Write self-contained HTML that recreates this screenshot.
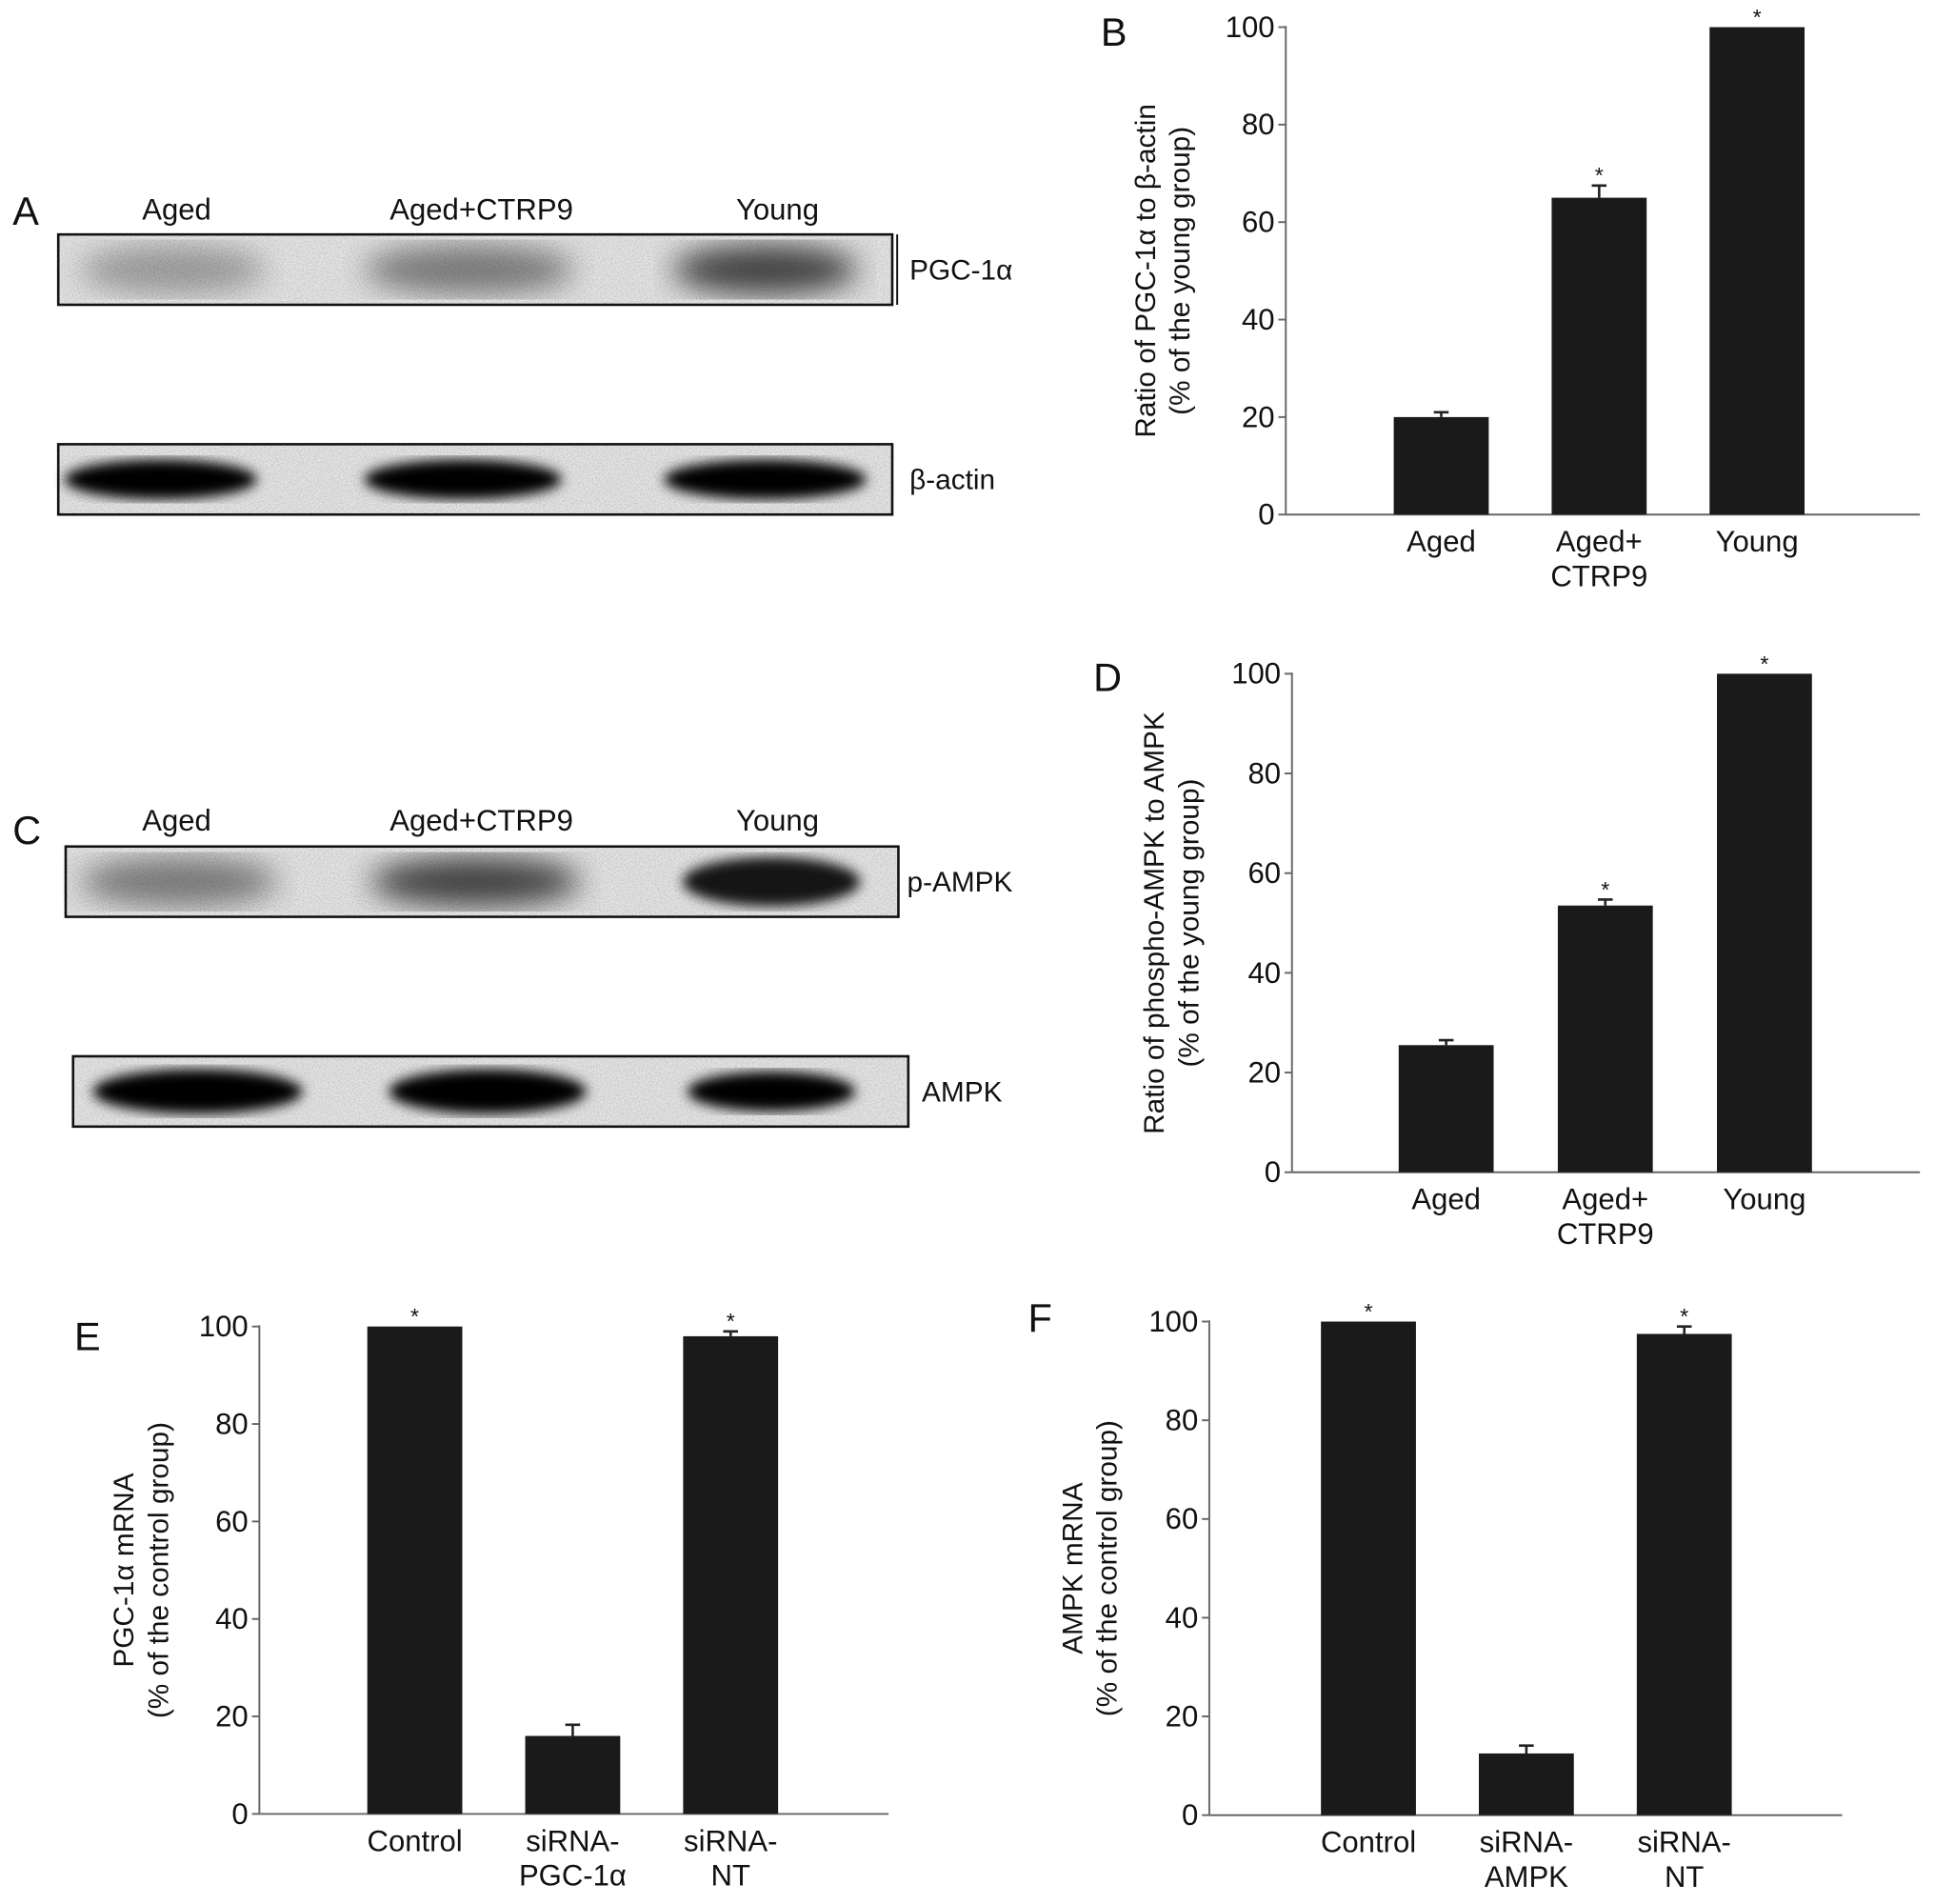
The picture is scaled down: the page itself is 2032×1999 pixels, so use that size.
<!DOCTYPE html>
<html><head><meta charset="utf-8">
<style>
html,body{margin:0;padding:0;background:#fff;}
svg{display:block;}
.t{font-family:"Liberation Sans Narrow","Liberation Sans",sans-serif;fill:#111;}
.ti{font-family:"Liberation Sans",sans-serif;fill:#111;}
</style></head>
<body>
<svg id="fig" width="2032" height="1999" viewBox="0 0 1568 1543" xmlns="http://www.w3.org/2000/svg">
<defs>
<filter id="noise" x="0" y="0" width="100%" height="100%">
<feTurbulence type="fractalNoise" baseFrequency="0.9" numOctaves="2" seed="3" result="n"/>
<feColorMatrix in="n" type="matrix" values="0 0 0 0 0.5  0 0 0 0 0.5  0 0 0 0 0.5  0 0 0 -2.2 1.35"/>
</filter>
<filter id="blurS"><feGaussianBlur stdDeviation="12"/></filter>
<filter id="blurH"><feGaussianBlur stdDeviation="5"/></filter>
</defs>
<g id="blots"></g>
<g id="charts"></g>
</svg>
<script>
// ---- Chart data ----
const catsB = [["Aged"],["Aged+","CTRP9"],["Young"]];
const valsB = [20, 65, 100];
const errB = [1, 2.5, 0];
const starB = [false, true, true];

const catsD = [["Aged"],["Aged+","CTRP9"],["Young"]];
const valsD = [25.5, 53.5, 100];
const errD = [1, 1.2, 0];
const starD = [false, true, true];

const catsE = [["Control"],["siRNA-","PGC-1\u03b1"],["siRNA-","NT"]];
const valsE = [100, 16, 98];
const errE = [0, 2.3, 1];
const starE = [true, false, true];

const catsF = [["Control"],["siRNA-","AMPK"],["siRNA-","NT"]];
const valsF = [100, 12.5, 97.5];
const errF = [0, 1.6, 1.5];
const starF = [true, false, true];

const yTicks = [0, 20, 40, 60, 80, 100];

const NS = "http://www.w3.org/2000/svg";
function mk(tag, attrs, parent){
  const e = document.createElementNS(NS, tag);
  for (const k in attrs) e.setAttribute(k, attrs[k]);
  if (parent) parent.appendChild(e);
  return e;
}
function txt(parent, x, y, s, size, anchor, cls){
  const e = mk("text", {x:x, y:y, "font-size":size, "text-anchor":anchor||"middle", class:cls||"t"}, parent);
  e.textContent = s;
  return e;
}

function drawChart(cfg, cats, vals, errs, stars){
  const g = mk("g", {}, document.getElementById("charts"));
  
  
  const y = v => cfg.y0 - (v/100)*(cfg.y0 - cfg.y100);
  const bw = cfg.bw;
  const cx = i => cfg.c0 + i*cfg.step;
  const L = txt(g, cfg.lx, cfg.ly, cfg.letter, 32, "start", "ti");
  
  
  const ya = mk("line", {x1:cfg.ax, y1:y(100)-1, x2:cfg.ax, y2:cfg.y0, stroke:"#666", "stroke-width":1.5}, g);
  
  
  const xa = mk("line", {x1:cfg.ax, y1:cfg.y0, x2:cfg.xr, y2:cfg.y0, stroke:"#666", "stroke-width":1.5}, g);
  
  
  yTicks.forEach(t => {
    const tk = mk("line", {x1:cfg.ax-6, y1:y(t), x2:cfg.ax, y2:y(t), stroke:"#666", "stroke-width":1.5}, g);
    
    
    const tl = txt(g, cfg.ax-9, y(t)+8, String(t), 24, "end");
    
    
  });
  const tg = mk("g", {transform:"translate("+cfg.tx+","+((cfg.y0+y(100))/2+cfg.tdy)+") rotate(-90)"}, g);
  
  
  txt(tg, 0, 0, cfg.title1, 23, "middle", "ti");
  txt(tg, 0, 28, cfg.title2, 23, "middle", "ti");
  vals.forEach((v,i) => {
    const b = mk("rect", {x:cx(i)-bw/2, y:y(v), width:bw, height:cfg.y0-y(v), fill:"#1a1a1a"}, g);
    
    
    if (errs[i] > 0){
      const eb = mk("path", {d:"M"+cx(i)+" "+y(v)+" V"+y(v+errs[i])+" M"+(cx(i)-6)+" "+y(v+errs[i])+" H"+(cx(i)+6), stroke:"#222", "stroke-width":2, fill:"none"}, g);
      
      
    }
    if (stars[i]){
      const s = txt(g, cx(i), y(v+errs[i])-2, "*", 18, "middle", "ti");
      
      
    }
    cats[i].forEach((line,j) => {
      const c = txt(g, cx(i), cfg.y0+30+j*28, line, 24, "middle");
      
      
    });
  });
}

drawChart({name:"chart-b", letter:"B", lx:892, ly:37, ax:1042, xr:1556, y0:417, y100:22, c0:1168, step:128, bw:77,
  tx:936, tdy:0, title1:"Ratio of PGC-1\u03b1 to \u03b2-actin", title2:"(% of the young group)"}, catsB, valsB, errB, starB);
drawChart({name:"chart-d", letter:"D", lx:886, ly:560, ax:1047, xr:1556, y0:950, y100:546, c0:1172, step:129, bw:77,
  tx:943, tdy:0, title1:"Ratio of phospho-AMPK to AMPK", title2:"(% of the young group)"}, catsD, valsD, errD, starD);
drawChart({name:"chart-e", letter:"E", lx:60, ly:1094, ax:210, xr:720, y0:1470, y100:1075, c0:336, step:128, bw:77,
  tx:108, tdy:0, title1:"PGC-1\u03b1 mRNA", title2:"(% of the control group)"}, catsE, valsE, errE, starE);
drawChart({name:"chart-f", letter:"F", lx:833, ly:1079, ax:980, xr:1493, y0:1471, y100:1071, c0:1109, step:128, bw:77,
  tx:877, tdy:0, title1:"AMPK mRNA", title2:"(% of the control group)"}, catsF, valsF, errF, starF);

// ---- Western blots ----
function blot(name, x, y, w, h, bands, label, lx, bar){
  const bl = document.getElementById("blots");
  const g = mk("g", {}, bl);
  
  
  mk("rect", {x:x, y:y, width:w, height:h, fill:"#e4e4e4"}, g);
  mk("rect", {x:x, y:y, width:w, height:h, fill:"#fff", filter:"url(#noise)", opacity:0.9}, g);
  bands.forEach(b => {
    const e = mk("ellipse", {cx:b[0], cy:y+h/2+(b[4]||0), rx:b[1], ry:b[2], fill:"#000", opacity:b[3], filter: b[3] > 0.8 ? "url(#blurH)" : "url(#blurS)"}, g);
    
    
  });
  mk("rect", {x:x, y:y, width:w, height:h, fill:"none", stroke:"#111", "stroke-width":2}, g);
  if (bar) mk("line", {x1:x+w+4, y1:y, x2:x+w+4, y2:y+h, stroke:"#111", "stroke-width":1.5}, g);
  const t = txt(g, lx, y+h/2+8, label, 23, "start");
  
  
}
const bl = document.getElementById("blots");
function lanes(y, letter, ly){
  const L = txt(bl, 10, ly, letter, 32, "start", "ti");
  
  
  [["Aged",143],["Aged+CTRP9",390],["Young",630]].forEach(a => {
    const t = txt(bl, a[1], y, a[0], 24, "middle");
    
    
  });
}
lanes(178, "A", 182);
blot("blot-pgc1a", 47, 190, 676, 57, [[140,75,20,0.3],[380,85,20,0.45],[620,75,20,0.7]], "PGC-1\u03b1", 737, true);
blot("blot-beta-actin", 47, 360, 676, 57, [[130,78,16,1],[375,80,16,1],[620,82,16,1]], "\u03b2-actin", 737, false);
lanes(673, "C", 684);
blot("blot-p-ampk", 53, 686, 675, 57, [[145,80,20,0.45],[385,85,20,0.7],[625,72,20,0.9]], "p-AMPK", 735, false);
blot("blot-ampk", 59, 856, 677, 57, [[160,85,18,1],[395,80,18,1],[625,68,16,1]], "AMPK", 747, false);
</script>
</body></html>
